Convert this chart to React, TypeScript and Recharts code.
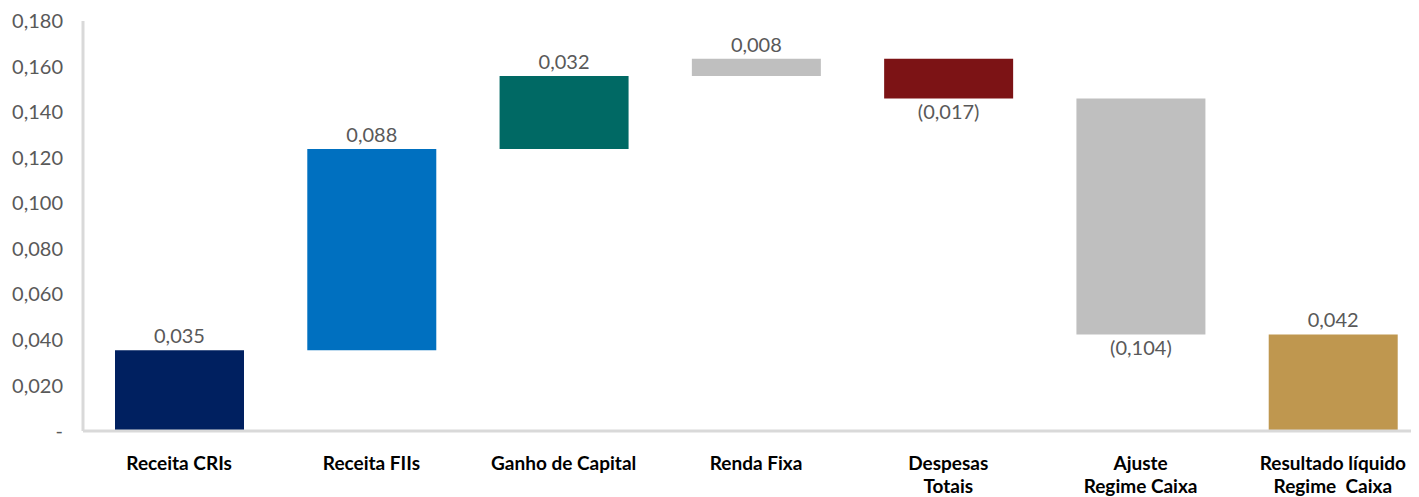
import { BarChart, Bar, XAxis, YAxis, Cell, LabelList } from 'recharts'

const categories = [
  'Receita CRIs',
  'Receita FIIs',
  'Ganho de Capital',
  'Renda Fixa',
  'Despesas\nTotais',
  'Ajuste\nRegime Caixa',
  'Resultado líquido\nRegime  Caixa',
]

// variation of each step (the last one is the total)
const steps = [0.0354, 0.0884, 0.032, 0.0076, -0.0174, -0.1036]
const isTotal = [false, false, false, false, false, false, true]

const colors = ['#002060', '#0070C0', '#006964', '#BFBFBF', '#7C1315', '#BFBFBF', '#BF974F']

const yTicks = [0, 0.02, 0.04, 0.06, 0.08, 0.1, 0.12, 0.14, 0.16, 0.18]

const fmt = (v: number) => {
  if (v === 0) return '-'
  const s = Math.abs(v).toFixed(3).replace('.', ',')
  return v < 0 ? `(${s})` : s
}

// build waterfall rows: transparent base + visible size
let running = 0
const data = categories.map((name, i) => {
  if (isTotal[i]) {
    return { name, base: 0, size: running, delta: running }
  }
  const delta = steps[i]
  const start = running
  running += delta
  return { name, base: Math.min(start, running), size: Math.abs(delta), delta }
})

const CategoryTick = (props: any) => {
  const { x, y, payload } = props
  const lines = String(payload.value).split('\n')
  return (
    <text
      x={x}
      y={y + 37}
      textAnchor="middle"
      fill="#000"
      fontSize={19}
      fontWeight={700}
      style={{ whiteSpace: 'pre' }}
    >
      {lines.map((line, idx) => (
        <tspan key={idx} x={x} dy={idx === 0 ? 0 : 23}>
          {line}
        </tspan>
      ))}
    </text>
  )
}

const ValueLabel = (props: any) => {
  const { x, y, width, height, index } = props
  const delta = data[index].delta
  const cx = x + width / 2
  if (delta < 0) {
    return (
      <text x={cx} y={y + height + 21} textAnchor="middle" fill="#595959" fontSize={20}>
        {fmt(delta)}
      </text>
    )
  }
  return (
    <text x={cx} y={y - 7} textAnchor="middle" fill="#595959" fontSize={20}>
      {fmt(delta)}
    </text>
  )
}

export default function App() {
  return (
    <div style={{ width: 1411, height: 489, overflow: 'hidden' }}>
      <BarChart
        width={1440}
        height={489}
        data={data}
        barSize={129}
        margin={{ top: 13, right: 19, left: 0, bottom: 0 }}
        style={{ fontFamily: 'Lato, sans-serif' }}
      >
        <XAxis
          dataKey="name"
          interval={0}
          tickLine={false}
          tickSize={0}
          height={66}
          axisLine={{ stroke: '#D9D9D9', strokeWidth: 3 }}
          tick={<CategoryTick />}
        />
        <YAxis
          width={75}
          domain={[0, 0.18]}
          ticks={yTicks}
          tickFormatter={fmt}
          tickLine={false}
          tickSize={8}
          tickMargin={12}
          axisLine={{ stroke: '#D9D9D9', strokeWidth: 3 }}
          tick={{ fontSize: 20, fill: '#595959' }}
        />
        <Bar dataKey="base" stackId="w" fill="transparent" barSize={129} isAnimationActive={false} />
        <Bar dataKey="size" stackId="w" barSize={129} isAnimationActive={false}>
          {data.map((d, idx) => (
            <Cell key={d.name} fill={colors[idx]} />
          ))}
          <LabelList dataKey="size" content={<ValueLabel />} />
        </Bar>
      </BarChart>
    </div>
  )
}
